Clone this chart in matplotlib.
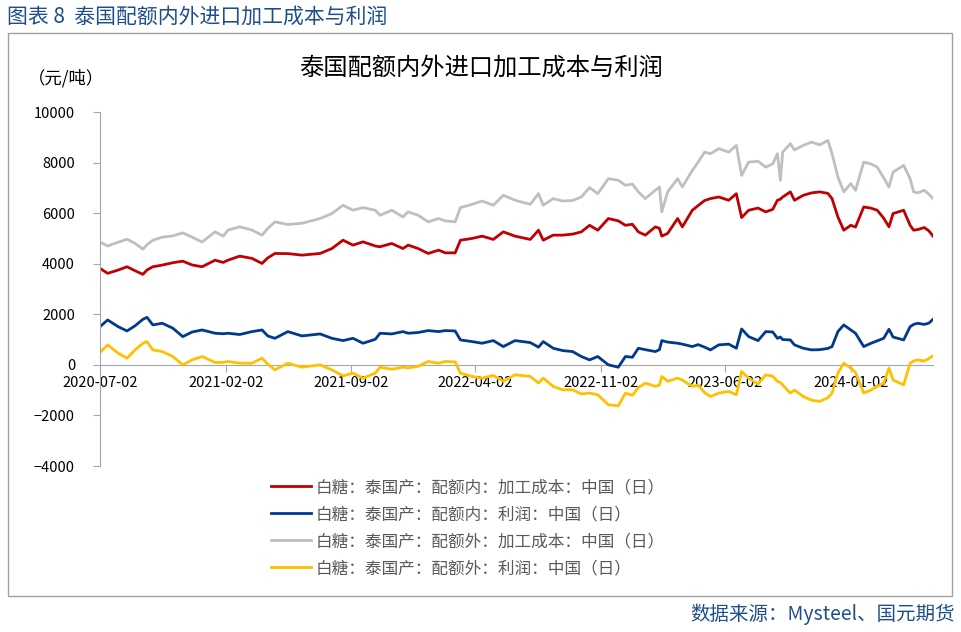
import matplotlib
matplotlib.use('Agg')
import matplotlib.pyplot as plt
import matplotlib.dates as mdates
from matplotlib.patches import Rectangle
import pandas as pd

plt.rcParams['font.family'] = ['Noto Sans CJK SC', 'DejaVu Sans']

# values (yuan/ton)
dates = ['2020-07-02', '2020-07-15', '2020-08-02', '2020-08-17', '2020-08-31', '2020-09-13',
         '2020-09-20', '2020-09-30', '2020-10-16', '2020-11-03', '2020-11-20', '2020-12-06',
         '2020-12-23', '2021-01-14', '2021-01-28', '2021-02-05', '2021-02-25', '2021-03-18',
         '2021-04-04', '2021-04-14', '2021-04-26', '2021-05-18', '2021-06-11', '2021-07-12',
         '2021-08-01', '2021-08-20', '2021-09-06', '2021-09-23', '2021-10-14', '2021-10-22',
         '2021-11-11', '2021-11-30', '2021-12-09', '2021-12-26', '2022-01-12', '2022-01-30',
         '2022-02-10', '2022-02-27', '2022-03-08', '2022-03-28', '2022-04-14', '2022-05-03',
         '2022-05-20', '2022-06-09', '2022-07-05', '2022-07-19', '2022-07-27', '2022-08-13',
         '2022-08-29', '2022-09-15', '2022-09-30', '2022-10-14', '2022-10-28', '2022-11-15',
         '2022-12-02', '2022-12-14', '2022-12-26', '2023-01-05', '2023-01-17', '2023-02-03',
         '2023-02-10', '2023-02-14', '2023-02-24', '2023-03-13', '2023-03-21', '2023-04-07',
         '2023-04-17', '2023-04-28', '2023-05-08', '2023-05-22', '2023-06-08', '2023-06-21',
         '2023-06-30', '2023-07-12', '2023-07-28', '2023-08-10', '2023-08-22', '2023-08-30',
         '2023-09-04', '2023-09-08', '2023-09-21', '2023-09-28', '2023-10-13', '2023-10-27',
         '2023-11-10', '2023-11-24', '2023-12-01', '2023-12-11', '2023-12-21', '2024-01-02',
         '2024-01-10', '2024-01-24', '2024-02-05', '2024-02-16', '2024-02-27', '2024-03-07',
         '2024-03-14', '2024-04-01', '2024-04-12', '2024-04-18', '2024-04-25', '2024-05-06',
         '2024-05-14', '2024-05-21']

cost_in = [3815, 3620, 3750, 3880, 3720, 3580, 3750, 3880, 3945, 4040, 4100, 3950,
           3880, 4140, 4050, 4140, 4300, 4210, 4010, 4235, 4405, 4400, 4340, 4405,
           4600, 4930, 4735, 4865, 4700, 4670, 4800, 4600, 4735, 4600, 4405, 4537,
           4430, 4430, 4930, 5000, 5090, 4960, 5260, 5090, 4960, 5325, 4930, 5130,
           5130, 5170, 5260, 5520, 5325, 5787, 5695, 5520, 5560, 5260, 5130, 5457,
           5400, 5090, 5200, 5787, 5457, 6115, 6300, 6500, 6575, 6640, 6510, 6770,
           5825, 6115, 6200, 6050, 6150, 6510, 6550, 6640, 6840, 6510, 6705, 6800,
           6840, 6780, 6575, 5850, 5325, 5520, 5450, 6245, 6200, 6115, 5800, 5457,
           5985, 6115, 5520, 5325, 5350, 5430, 5300, 5090]

profit_in = [1510, 1775, 1510, 1340, 1550, 1800, 1880, 1580, 1645, 1450, 1117, 1300,
             1380, 1250, 1230, 1250, 1200, 1315, 1380, 1140, 1050, 1315, 1144, 1223,
             1050, 960, 1050, 855, 1012, 1250, 1223, 1315, 1250, 1280, 1355, 1315,
             1355, 1340, 986, 920, 855, 960, 723, 960, 880, 700, 920, 657,
             565, 526, 330, 197, 330, 0, -92, 330, 300, 657, 600, 526,
             600, 960, 900, 855, 820, 723, 800, 700, 592, 790, 820, 657,
             1420, 1117, 960, 1315, 1300, 1050, 1100, 1000, 986, 790, 657, 592,
             600, 650, 723, 1315, 1580, 1380, 1250, 723, 850, 950, 1050, 1407,
             1100, 986, 1510, 1600, 1645, 1600, 1650, 1800]

cost_out = [4860, 4700, 4850, 4970, 4800, 4576, 4750, 4930, 5050, 5100, 5220, 5050,
            4860, 5260, 5090, 5330, 5460, 5330, 5130, 5400, 5655, 5550, 5600, 5787,
            5985, 6310, 6115, 6220, 6115, 5917, 6115, 5850, 6050, 5917, 5655, 5787,
            5695, 5655, 6220, 6350, 6480, 6310, 6705, 6510, 6350, 6770, 6310, 6575,
            6480, 6500, 6640, 7010, 6770, 7365, 7300, 7100, 7150, 6840, 6575, 6905,
            7035, 6050, 6840, 7365, 7035, 7690, 8020, 8415, 8350, 8550, 8415, 8680,
            7495, 8020, 8050, 7820, 7950, 8350, 7300, 8415, 8745, 8500, 8680, 8810,
            8700, 8875, 8350, 7430, 6840, 7170, 6900, 8020, 7950, 7820, 7400, 7035,
            7625, 7890, 7365, 6840, 6800, 6905, 6750, 6575]

profit_out = [490, 790, 460, 263, 600, 850, 920, 592, 526, 330, 0, 197,
              330, 92, 100, 132, 66, 66, 263, 26, -197, 66, -92, 0,
              -197, -434, -328, -526, -328, -92, -171, -92, -120, -60, 132, 66,
              132, 120, -328, -460, -526, -420, -650, -394, -460, -720, -520, -855,
              -986, -986, -1150, -1117, -1183, -1578, -1620, -1117, -1200, -900, -723, -850,
              -800, -460, -650, -526, -600, -855, -800, -1100, -1250, -1117, -1050, -1183,
              -263, -526, -760, -394, -450, -657, -700, -800, -1117, -1000, -1250, -1400,
              -1447, -1300, -1117, -328, 66, -130, -300, -1117, -1000, -850, -723, -130,
              -600, -790, 66, 150, 197, 150, 250, 355]

labels = ['白糖：泰国产：配额内：加工成本：中国（日）',
          '白糖：泰国产：配额内：利润：中国（日）',
          '白糖：泰国产：配额外：加工成本：中国（日）',
          '白糖：泰国产：配额外：利润：中国（日）']
colors = ['#C00000', '#003A8C', '#BFBFBF', '#FFC000']
tick_dates = ['2020-07-02', '2021-02-02', '2021-09-02', '2022-04-02',
              '2022-11-02', '2023-06-02', '2024-01-02']

x = pd.to_datetime(dates)
series = [cost_in, profit_in, cost_out, profit_out]

fig = plt.figure(figsize=(9.61, 6.32), dpi=100)
ax = fig.add_axes([100/961, 1-466/632, 833/961, 354/632])

handles = []
for s, c, lab in zip(series, colors, labels):
    h, = ax.plot(x, s, color=c, lw=2.0, label=lab, solid_joinstyle='round')
    handles.append(h)

ax.set_ylim(-4000, 10000)
ax.set_yticks(range(-4000, 10001, 2000))
ax.set_xlim(pd.Timestamp('2020-07-02'), x[-1])
ax.set_xticks(pd.to_datetime(tick_dates))
ax.xaxis.set_major_formatter(mdates.DateFormatter('%Y-%m-%d'))

for side in ['top', 'right']:
    ax.spines[side].set_visible(False)
ax.spines['bottom'].set_position(('data', 0))
ax.spines['bottom'].set_color('#A6A6A6')
ax.spines['left'].set_color('#A6A6A6')
ax.spines['bottom'].set_zorder(0)
ax.tick_params(axis='y', length=5, color='#A6A6A6', labelsize=10.5, pad=13)
ax.tick_params(axis='x', length=5, color='#A6A6A6', labelsize=10.5, pad=3)

# outer frame, header and notes
fig.patches.append(Rectangle((8/961, 1-596/632), 944/961, 563/632, transform=fig.transFigure,
                             fill=False, edgecolor='#A0A0A0', lw=1.0))
fig.text(7/961, 1-17/632, '图表 8  泰国配额内外进口加工成本与利润', fontsize=15,
         color='#1F4E8C', ha='left', va='center')
fig.text(481/961, 1-68/632, '泰国配额内外进口加工成本与利润', fontsize=17.5,
         color='#000000', ha='center', va='center')
fig.text(28/961, 1-78/632, '（元/吨）', fontsize=12.5, ha='left', va='center')
fig.text(955/961, 1-614/632, '数据来源：Mysteel、国元期货', fontsize=14,
         color='#1F4E8C', ha='right', va='center')

fig.legend(handles=handles, loc='upper left', bbox_to_anchor=(256/961, 1-464/632),
           frameon=False, fontsize=12, handlelength=2.4, handletextpad=0.3,
           labelspacing=0.6, labelcolor='#595959')

fig.savefig('out.png', dpi=100)
